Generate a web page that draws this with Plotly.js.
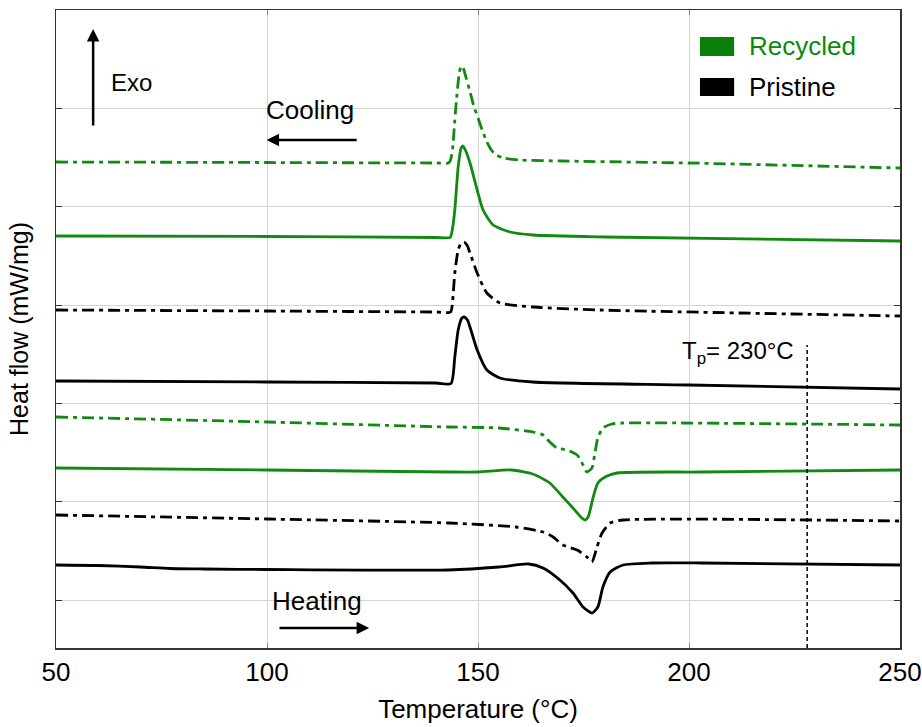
<!DOCTYPE html>
<html>
<head>
<meta charset="utf-8">
<script src="https://cdn.plot.ly/plotly-3.0.1.min.js"></script>
<style>html,body{margin:0;padding:0;background:#fff;}#chart{width:922px;height:727px;}</style>
</head>
<body>
<div id="chart"></div>
<script>
// Heat flow values (arbitrary, offset units)
const coolRecDashT = [50,100,140,143,143.5,144,144.5,145,145.5,146,146.5,147,148,149,150,151,152,153,154,156,160,170,200,250];
const coolRecDashY = [4.86,4.855,4.85,4.85,4.88,5.00,5.28,5.53,5.73,5.82,5.80,5.73,5.58,5.42,5.30,5.18,5.07,4.99,4.94,4.90,4.88,4.87,4.85,4.80];

const coolRecSolidT = [50,100,140,143.4,143.9,144.5,145.3,146.0,146.4,147,148.1,149.8,151.2,153.6,157.6,163,180,250];
const coolRecSolidY = [4.12,4.115,4.105,4.105,4.18,4.38,4.81,5.00,5.02,4.98,4.85,4.58,4.38,4.23,4.16,4.13,4.11,4.07];

const coolPriDashT = [50,100,140,143.5,144,144.5,145.3,146,146.7,147.5,148.1,149.8,152.1,155.2,163,179,250];
const coolPriDashY = [3.38,3.37,3.36,3.36,3.48,3.75,3.98,4.05,4.06,4.02,3.95,3.75,3.55,3.45,3.41,3.38,3.32];

const coolPriSolidT = [50,100,140,143.6,144.5,145.3,146.2,146.7,147.5,148.1,149.8,152.1,155.2,163,200,250];
const coolPriSolidY = [2.67,2.66,2.65,2.645,2.91,3.18,3.30,3.31,3.28,3.21,2.98,2.78,2.70,2.66,2.63,2.59];

const heatRecDashT = [50,100,143,155,163,165.4,167,168.7,171.1,173.5,174.9,175.8,177,177.7,178.4,179.6,181.7,184.4,250];
const heatRecDashY = [2.31,2.26,2.21,2.20,2.16,2.13,2.06,2.00,1.98,1.93,1.83,1.76,1.80,1.95,2.10,2.20,2.24,2.25,2.23];

const heatRecSolidT = [50,100,143,150,158,163,167,170.1,172.5,174.6,175.4,176.1,177.3,178.4,180.1,182.9,203,250];
const heatRecSolidY = [1.80,1.78,1.76,1.76,1.78,1.74,1.65,1.51,1.40,1.30,1.28,1.31,1.51,1.65,1.71,1.75,1.76,1.78];

const heatPriDashT = [50,100,143,159,165.4,167.8,170.1,173.5,175.8,177,178.2,179.4,181.3,184.4,250];
const heatPriDashY = [1.33,1.29,1.25,1.21,1.16,1.11,1.03,0.98,0.91,0.86,1.01,1.15,1.25,1.28,1.27];

const heatPriSolidT = [50,60,70,77,85,100,143,155,162,165.4,169.4,172.5,174.9,177,178.4,179.6,181.3,184.4,191,203,250];
const heatPriSolidY = [0.83,0.825,0.81,0.795,0.79,0.785,0.78,0.81,0.84,0.80,0.68,0.55,0.41,0.35,0.41,0.61,0.76,0.83,0.85,0.85,0.83];

const xTicks = [50,100,150,200,250];
const tpValue = 228;
const seriesNames = ['Recycled','Pristine'];

const GREEN = '#118a11';
const BLACK = '#000000';
const DASHDOT = '12px,5px,4px,5px';
const LW = 2.8;

function tr(x, y, color, dash, name) {
  return {x: x, y: y, type: 'scatter', mode: 'lines', name: name, showlegend: false,
    line: {color: color, width: LW, dash: dash, shape: 'spline', smoothing: 0.6}, hoverinfo: 'skip'};
}

const data = [
  tr(coolRecDashT, coolRecDashY, GREEN, DASHDOT, 'Recycled cooling 2'),
  tr(coolRecSolidT, coolRecSolidY, GREEN, 'solid', 'Recycled cooling 1'),
  tr(coolPriDashT, coolPriDashY, BLACK, DASHDOT, 'Pristine cooling 2'),
  tr(coolPriSolidT, coolPriSolidY, BLACK, 'solid', 'Pristine cooling 1'),
  tr(heatRecDashT, heatRecDashY, GREEN, DASHDOT, 'Recycled heating 2'),
  tr(heatRecSolidT, heatRecSolidY, GREEN, 'solid', 'Recycled heating 1'),
  tr(heatPriDashT, heatPriDashY, BLACK, DASHDOT, 'Pristine heating 2'),
  tr(heatPriSolidT, heatPriSolidY, BLACK, 'solid', 'Pristine heating 1')
];

const FONT = 'Liberation Sans, Arial, sans-serif';

const layout = {
  width: 922, height: 727,
  margin: {l: 56, r: 22, t: 10, b: 79},
  paper_bgcolor: '#fff', plot_bgcolor: '#fff',
  font: {family: FONT, color: '#000'},
  showlegend: false,
  xaxis: {
    range: [50, 250], tickvals: xTicks, ticktext: xTicks.map(String),
    showgrid: true, gridcolor: '#d4d4d4', gridwidth: 1,
    showline: true, linecolor: '#333', linewidth: 1.5, mirror: 'ticks',
    ticks: 'inside', ticklen: 5, tickcolor: '#888',
    tickfont: {size: 26, family: FONT}, ticklabelstandoff: 0, ticklabeloverflow: 'allow',
    zeroline: false,
    title: {text: 'Temperature (°C)', font: {size: 26, family: FONT}, standoff: 14}
  },
  yaxis: {
    range: [0, 6.38], tick0: 0.48, dtick: 0.98333,
    showticklabels: false,
    showgrid: true, gridcolor: '#d4d4d4', gridwidth: 1,
    showline: true, linecolor: '#333', linewidth: 1.5, mirror: 'ticks',
    ticks: 'inside', ticklen: 6, tickcolor: '#333',
    zeroline: false,
    title: {text: 'Heat flow (mW/mg)', font: {size: 25, family: FONT}, standoff: 19}
  },
  shapes: [
    {type: 'line', xref: 'x', yref: 'y', x0: tpValue, x1: tpValue, y0: 0, y1: 3.03,
     line: {color: '#000', width: 1.5, dash: '4px,3px'}},
    {type: 'rect', xref: 'x', yref: 'y', x0: 202.6, x1: 210.7, y0: 5.92, y1: 6.11,
     fillcolor: '#0a800a', line: {width: 0}},
    {type: 'rect', xref: 'x', yref: 'y', x0: 202.6, x1: 210.7, y0: 5.52, y1: 5.70,
     fillcolor: '#000', line: {width: 0}}
  ],
  annotations: [
    {x: 213.8, y: 6.02, xref: 'x', yref: 'y', text: seriesNames[0], showarrow: false,
     xanchor: 'left', yanchor: 'middle', font: {size: 26, color: '#0a8a0a', family: FONT}},
    {x: 213.8, y: 5.61, xref: 'x', yref: 'y', text: seriesNames[1], showarrow: false,
     xanchor: 'left', yanchor: 'middle', font: {size: 26, color: '#000', family: FONT}},
    // Exo arrow
    {x: 58.8, y: 6.19, ax: 58.8, ay: 5.21, xref: 'x', yref: 'y', axref: 'x', ayref: 'y',
     text: '', showarrow: true, arrowhead: 2, arrowsize: 1, arrowwidth: 2.5, arrowcolor: '#000'},
    {x: 62.5, y: 5.66, xref: 'x', yref: 'y', text: 'Exo', showarrow: false,
     xanchor: 'left', yanchor: 'middle', font: {size: 24, family: FONT}},
    // Cooling
    {x: 99.3, y: 5.38, xref: 'x', yref: 'y', text: 'Cooling', showarrow: false,
     xanchor: 'left', yanchor: 'middle', font: {size: 26, family: FONT}},
    {x: 99.9, y: 5.08, ax: 121.6, ay: 5.08, xref: 'x', yref: 'y', axref: 'x', ayref: 'y',
     text: '', showarrow: true, arrowhead: 2, arrowsize: 1, arrowwidth: 2.5, arrowcolor: '#000'},
    // Heating
    {x: 100.7, y: 0.47, xref: 'x', yref: 'y', text: 'Heating', showarrow: false,
     xanchor: 'left', yanchor: 'middle', font: {size: 26, family: FONT}},
    {x: 124.2, y: 0.20, ax: 102.6, ay: 0.20, xref: 'x', yref: 'y', axref: 'x', ayref: 'y',
     text: '', showarrow: true, arrowhead: 2, arrowsize: 1, arrowwidth: 2.5, arrowcolor: '#000'},
    // Tp label
    {x: 225.3, y: 2.96, xref: 'x', yref: 'y', text: 'T<sub>p</sub>= 230°C', showarrow: false,
     xanchor: 'right', yanchor: 'middle', font: {size: 24, family: FONT}}
  ]
};

Plotly.newPlot('chart', data, layout, {displayModeBar: false, staticPlot: true});
</script>
</body>
</html>
